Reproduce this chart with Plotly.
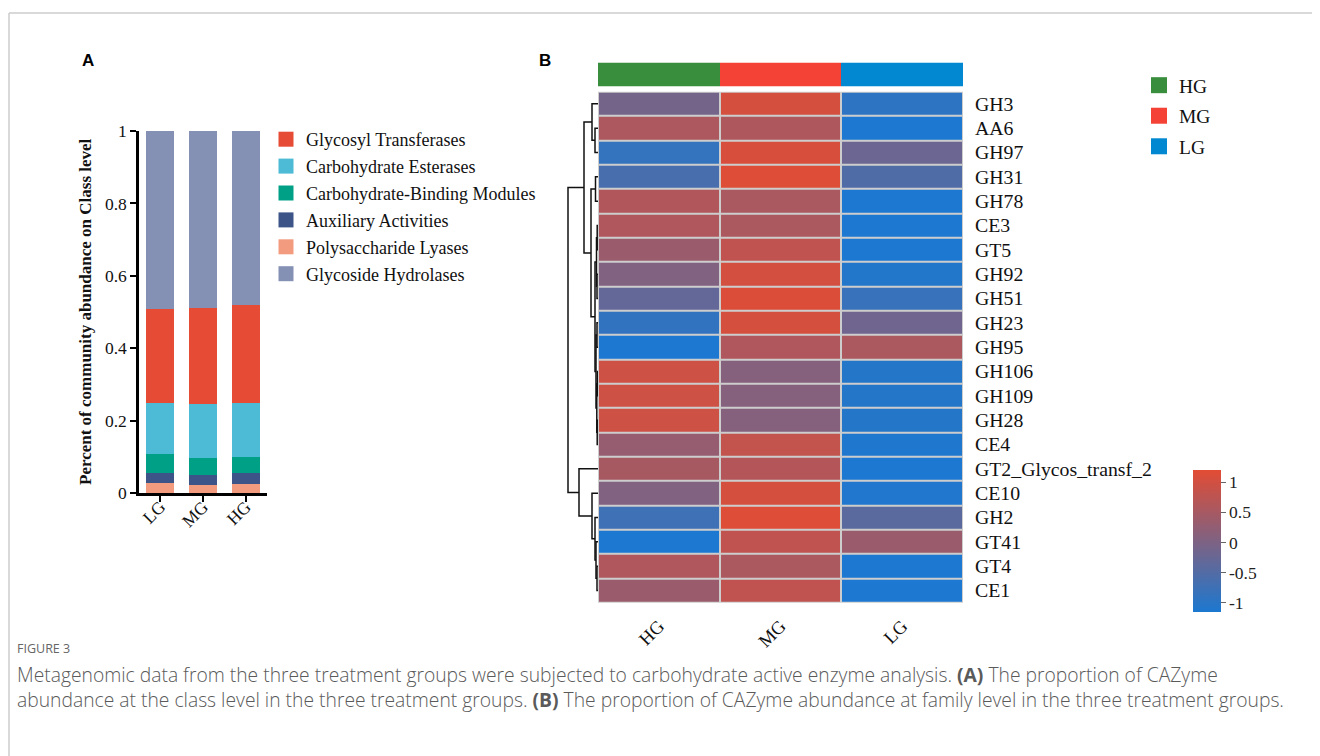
import plotly.graph_objects as go

W, H = 1320, 756
OFF = 8  # page body margin

# ---------------- Panel A data ----------------
groups_a = ["LG", "MG", "HG"]
polysaccharide_lyases = [0.028, 0.023, 0.026]
auxiliary_activities = [0.027, 0.027, 0.029]
carbohydrate_binding_modules = [0.052, 0.047, 0.045]
carbohydrate_esterases = [0.141, 0.149, 0.148]
glycosyl_transferases = [0.259, 0.264, 0.270]
glycoside_hydrolases = [0.493, 0.490, 0.482]
y_ticks_a = [0, 0.2, 0.4, 0.6, 0.8, 1]
y_tick_text_a = ["0", "0.2", "0.4", "0.6", "0.8", "1"]

# ---------------- Panel B data ----------------
families = ["GH3", "AA6", "GH97", "GH31", "GH78", "CE3", "GT5", "GH92", "GH51",
            "GH23", "GH95", "GH106", "GH109", "GH28", "CE4",
            "GT2_Glycos_transf_2", "CE10", "GH2", "GT41", "GT4", "CE1"]
heat_groups = ["HG", "MG", "LG"]
hg_z = [-0.10, 0.57, -0.87, -0.62, 0.62, 0.60, 0.35, 0.05, -0.30, -0.90, -1.15,
        0.95, 0.95, 0.95, 0.30, 0.50, 0.05, -0.75, -1.15, 0.60, 0.35]
mg_z = [1.05, 0.58, 1.08, 1.15, 0.53, 0.55, 0.80, 1.02, 1.12, 1.05, 0.60,
        0.10, 0.10, 0.10, 0.82, 0.65, 1.05, 1.15, 0.80, 0.55, 0.80]
lg_z = [-0.95, -1.15, -0.21, -0.53, -1.15, -1.15, -1.15, -1.07, -0.82, -0.15, 0.55,
        -1.05, -1.05, -1.05, -1.12, -1.15, -1.10, -0.40, 0.35, -1.15, -1.15]
colorbar_ticks = [1, 0.5, 0, -0.5, -1]
colorbar_text = ["1", "0.5", "0", "-0.5", "-1"]

# row dendrogram: (merge height, left, right)
row_tree = (30,
            (14,
             (6, "GH3", (3, "AA6", "GH97")),
             (7,
              (2.5, "GH31", "GH78"),
              (3,
               (1.5, (0.8, "CE3", "GT5"), (1.0, "GH92", "GH51")),
               (2.0, (1.0, "GH23", "GH95"),
                (1.2, (0.6, "GH106", "GH109"), (0.8, "GH28", "CE4")))))),
            (19,
             "GT2_Glycos_transf_2",
             (6, "CE10", (3, "GH2", (2, "GT41", (1, "GT4", "CE1"))))))

SERIF = "Liberation Serif, Times New Roman, serif"
SANS = "Liberation Sans, Arial, sans-serif"
CAP = "Open Sans, Noto Sans, sans-serif"

class_colors = {
    "Glycosyl Transferases": "#E64B35",
    "Carbohydrate Esterases": "#4DBBD5",
    "Carbohydrate-Binding Modules": "#00A087",
    "Auxiliary Activities": "#3C5488",
    "Polysaccharide Lyases": "#F39B7F",
    "Glycoside Hydrolases": "#8491B4",
}
stack = [("Polysaccharide Lyases", polysaccharide_lyases),
         ("Auxiliary Activities", auxiliary_activities),
         ("Carbohydrate-Binding Modules", carbohydrate_binding_modules),
         ("Carbohydrate Esterases", carbohydrate_esterases),
         ("Glycosyl Transferases", glycosyl_transferases),
         ("Glycoside Hydrolases", glycoside_hydrolases)]
legend_order = ["Glycosyl Transferases", "Carbohydrate Esterases",
                "Carbohydrate-Binding Modules", "Auxiliary Activities",
                "Polysaccharide Lyases", "Glycoside Hydrolases"]

group_colors = {"HG": "#388E3C", "MG": "#F44336", "LG": "#0288D1"}


def px_x(p):
    return (p - OFF) / W


def px_y(p):
    return 1 - (p - OFF) / H


fig = go.Figure()

# ---- Panel A stacked bars ----
for name, vals in stack:
    fig.add_trace(go.Bar(x=groups_a, y=vals, name=name, marker_color=class_colors[name],
                         marker_line_width=0, showlegend=False, xaxis="x", yaxis="y"))
for name in legend_order:
    fig.add_trace(go.Scatter(x=[None], y=[None], mode="markers", name=name,
                             marker=dict(symbol="square", size=15, color=class_colors[name]),
                             legend="legend", legendgroup=name,
                             xaxis="x", yaxis="y"))

# ---- Panel B heatmap ----
z = [[hg_z[i], mg_z[i], lg_z[i]] for i in range(len(families))]
fig.add_trace(go.Heatmap(
    z=z, x=heat_groups, y=families, xaxis="x2", yaxis="y2",
    zmin=-1.15, zmax=1.2,
    colorscale=[[0, "#1C78D0"], [1, "#E24C34"]],
    xgap=2, ygap=2,
    colorbar=dict(x=px_x(1193), xanchor="left", y=px_y(612), yanchor="bottom",
                  len=142, lenmode="pixels", thickness=28, thicknessmode="pixels",
                  outlinewidth=0, xpad=0, ypad=0,
                  tickvals=colorbar_ticks, ticktext=colorbar_text,
                  ticks="outside", ticklen=5, tickcolor="#666",
                  tickfont=dict(family=SERIF, size=17.5, color="#222")),
))

# annotation bar
fig.add_trace(go.Heatmap(
    z=[[0, 1, 2]], x=heat_groups, y=["group"], xaxis="x2", yaxis="y4",
    zmin=0, zmax=2, showscale=False,
    colorscale=[[0, group_colors["HG"]], [0.333, group_colors["HG"]],
                [0.333, group_colors["MG"]], [0.667, group_colors["MG"]],
                [0.667, group_colors["LG"]], [1, group_colors["LG"]]],
))
for g in heat_groups:
    fig.add_trace(go.Scatter(x=[None], y=[None], mode="markers", name=g,
                             marker=dict(symbol="square", size=19, color=group_colors[g]),
                             legend="legend2", legendgroup=g, xaxis="x2", yaxis="y2"))

# ---- dendrogram ----
dx, dy = [], []


def walk(node):
    if isinstance(node, str):
        return families.index(node), 0.0
    h, left, right = node
    y1, h1 = walk(left)
    y2, h2 = walk(right)
    dx.extend([h1, h, h, h2, None])
    dy.extend([y1, y1, y2, y2, None])
    return (y1 + y2) / 2, h


walk(row_tree)
fig.add_trace(go.Scatter(x=dx, y=dy, mode="lines", line=dict(color="#111", width=1.5),
                         showlegend=False, xaxis="x3", yaxis="y3", hoverinfo="skip"))

caption = ("Metagenomic data from the three treatment groups were subjected to carbohydrate "
           "active enzyme analysis. <b>(A)</b> The proportion of CAZyme<br>"
           "abundance at the class level in the three treatment groups. <b>(B)</b> The proportion "
           "of CAZyme abundance at family level in the three treatment groups.")

# ---- layout ----
fig.update_layout(
    width=W, height=H, margin=dict(l=0, r=0, t=0, b=0, autoexpand=False),
    paper_bgcolor="white", plot_bgcolor="white",
    barmode="stack", bargap=0.34,
    xaxis=dict(domain=[px_x(139), px_x(267)], range=[-0.5, 2.5], type="category",
               showline=True, linecolor="black", linewidth=2.5,
               ticks="outside", ticklen=6, tickwidth=2, tickcolor="black",
               tickangle=-45, ticklabelstandoff=-12,
               tickfont=dict(family=SERIF, size=17.5, color="#111"),
               showgrid=False, zeroline=False, automargin=False),
    yaxis=dict(domain=[px_y(493), px_y(131)], range=[0, 1],
               tickvals=y_ticks_a, ticktext=y_tick_text_a,
               showline=True, linecolor="black", linewidth=2.5,
               ticks="outside", ticklen=6, tickwidth=2, tickcolor="black",
               tickfont=dict(family=SERIF, size=17.5, color="#111"),
               showgrid=False, zeroline=False, automargin=False),
    xaxis2=dict(domain=[px_x(598), px_x(963)], anchor="y2", type="category",
                showline=False, ticks="", tickangle=-45, ticklabelstandoff=8,
                tickfont=dict(family=SERIF, size=18.5, color="#111"),
                showgrid=False, zeroline=False, automargin=False),
    yaxis2=dict(domain=[px_y(602.7), px_y(91.7)], anchor="x2", side="right",
                autorange="reversed", type="category", ticks="", showline=False,
                ticklabelstandoff=11,
                tickfont=dict(family=SERIF, size=19.8, color="#111"),
                showgrid=False, zeroline=False, automargin=False),
    yaxis4=dict(domain=[px_y(86.5), px_y(62.5)], anchor="x2", showticklabels=False,
                ticks="", showline=False, showgrid=False, zeroline=False,
                automargin=False),
    xaxis3=dict(domain=[px_x(565), px_x(598)], anchor="y3", range=[33, 0],
                visible=False, automargin=False),
    yaxis3=dict(domain=[px_y(602.7), px_y(91.7)], anchor="x3",
                range=[len(families) - 0.5, -0.5], visible=False, automargin=False),
    legend=dict(x=px_x(266), y=px_y(121), xanchor="left", yanchor="top",
                traceorder="grouped", tracegroupgap=0.5,
                font=dict(family=SERIF, size=18, color="#111"),
                bgcolor="rgba(0,0,0,0)", itemclick=False),
    legend2=dict(x=px_x(1139), y=px_y(66), xanchor="left", yanchor="top",
                 traceorder="grouped", tracegroupgap=2.2,
                 font=dict(family=SERIF, size=19.5, color="#111"),
                 bgcolor="rgba(0,0,0,0)", itemclick=False),
    shapes=[
        dict(type="rect", xref="x2 domain", yref="y2 domain", x0=0, x1=1, y0=0, y1=1,
             fillcolor="#cdcdcd", line=dict(width=0), layer="below"),
        dict(type="line", xref="paper", yref="paper", x0=px_x(9), x1=1.05,
             y0=px_y(13), y1=px_y(13), line=dict(color="#cccccc", width=1.5)),
        dict(type="line", xref="paper", yref="paper", x0=px_x(9), x1=px_x(9),
             y0=px_y(13), y1=-0.05, line=dict(color="#cccccc", width=1.5)),
    ],
    annotations=[
        dict(text="<b>Percent of community abundance on Class level</b>",
             x=px_x(85), y=px_y(312), xref="paper", yref="paper", textangle=-90,
             xanchor="center", yanchor="middle", showarrow=False,
             font=dict(family=SERIF, size=17, color="#111")),
        dict(text="<b>A</b>", x=px_x(88), y=px_y(60), xref="paper", yref="paper",
             xanchor="center", yanchor="middle",
             showarrow=False, font=dict(family=SANS, size=17, color="black")),
        dict(text="<b>B</b>", x=px_x(545), y=px_y(60), xref="paper", yref="paper",
             xanchor="center", yanchor="middle",
             showarrow=False, font=dict(family=SANS, size=17, color="black")),
        dict(text="FIGURE 3", x=px_x(15), y=px_y(648), xref="paper", yref="paper",
             xanchor="left", yanchor="middle", showarrow=False,
             font=dict(family=CAP, size=12.5, color="#666")),
        dict(text=caption, x=px_x(15), y=px_y(687), xref="paper", yref="paper",
             xanchor="left", yanchor="middle", align="left", showarrow=False,
             font=dict(family=CAP, size=19.3, color="#5a5a5a", weight=300)),
    ],
)

fig.write_html("out.html")
